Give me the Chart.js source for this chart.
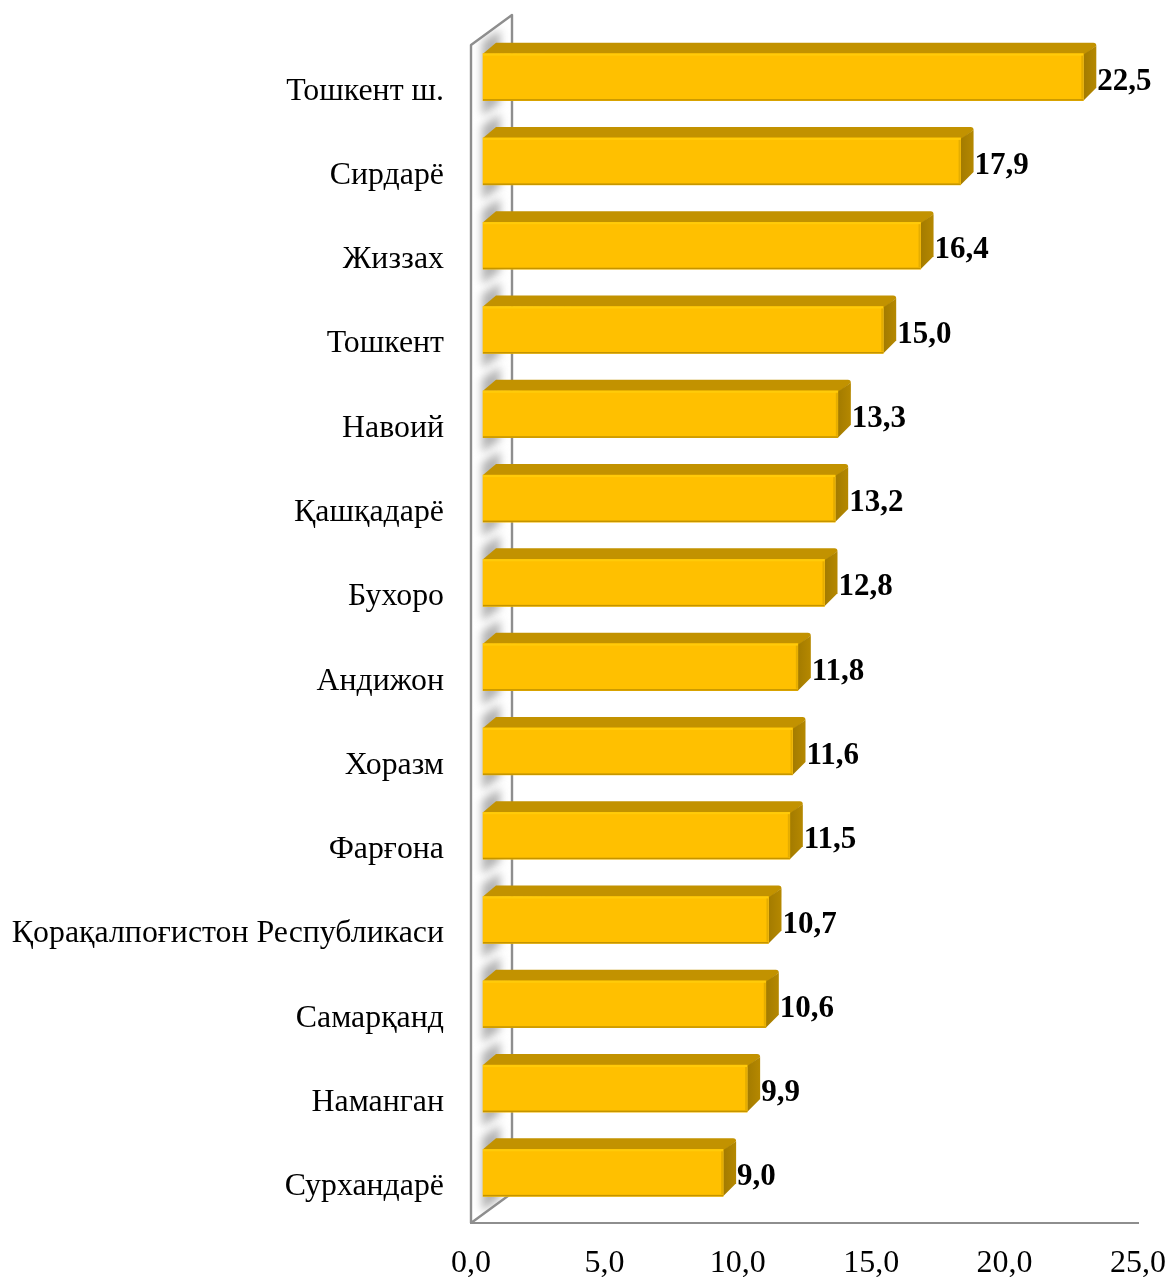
<!DOCTYPE html>
<html lang="uz">
<head>
    <meta charset="UTF-8">
    <title>Ҳудудлар кесимида</title>
    <style>
        html, body { margin: 0; padding: 0; background: #fff; }
        canvas { display: block; }
    </style>
</head>
<body>
    <canvas id="chart" width="1168" height="1277"></canvas>

    <script src="https://cdn.jsdelivr.net/npm/chart.js"></script>
    <script>
        const categories = ['Тошкент ш.', 'Сирдарё', 'Жиззах', 'Тошкент', 'Навоий', 'Қашқадарё', 'Бухоро',
            'Андижон', 'Хоразм', 'Фарғона', 'Қорақалпоғистон Республикаси', 'Самарқанд', 'Наманган', 'Сурхандарё'];
        const values = [22.5, 17.9, 16.4, 15.0, 13.3, 13.2, 12.8, 11.8, 11.6, 11.5, 10.7, 10.6, 9.9, 9.0];
        const tickLabels = ['0,0', '5,0', '10,0', '15,0', '20,0', '25,0'];

        const serif = '"Liberation Serif", "Times New Roman", serif';
        const axisGray = '#8e8e8e';
        // pseudo 3D: front of the bars sits this far from the wall base
        const shiftX = 12, shiftY = -8;
        const depthX = 13, depthY = 11;
        const wallX = 41, wallY = 30;
        const wallTopInset = 2;

        // back wall + floor edge lines, and the soft shadows the bars throw on it
        const wallPlugin = {
            id: 'wall',
            beforeDatasetsDraw(chart) {
                const { ctx, chartArea: a } = chart;
                const top = a.top + wallTopInset;
                ctx.save();
                ctx.save();
                ctx.beginPath();
                ctx.moveTo(a.left, top);
                ctx.lineTo(a.left + wallX, top - wallY);
                ctx.lineTo(a.left + wallX, a.bottom - wallY);
                ctx.lineTo(a.left, a.bottom);
                ctx.closePath();
                ctx.clip();
                ctx.filter = 'blur(4px)';
                ctx.fillStyle = '#b2b2b2';
                chart.getDatasetMeta(0).data.forEach(bar => {
                    const t = bar.y - bar.height / 2 + shiftY;
                    const b = bar.y + bar.height / 2 + shiftY;
                    const l = a.left + 11;
                    ctx.beginPath();
                    ctx.moveTo(l, t - 12);
                    ctx.lineTo(l + 18, t - 24);
                    ctx.lineTo(l + 18, b + 2);
                    ctx.lineTo(l, b + 15);
                    ctx.closePath();
                    ctx.fill();
                });
                ctx.restore();
                ctx.strokeStyle = axisGray;
                ctx.lineWidth = 2.4;
                ctx.lineJoin = 'round';
                ctx.beginPath();
                ctx.moveTo(a.left, a.bottom);
                ctx.lineTo(a.left, top);
                ctx.lineTo(a.left + wallX, top - wallY);
                ctx.lineTo(a.left + wallX, a.bottom - wallY);
                ctx.lineTo(a.left, a.bottom);
                ctx.stroke();
                ctx.restore();
            }
        };

        // top and side faces behind each bar, highlights and value labels over it
        const barFacesPlugin = {
            id: 'barFaces',
            beforeDatasetsDraw(chart) {
                const { ctx } = chart;
                ctx.save();
                ctx.translate(shiftX, shiftY);
                chart.getDatasetMeta(0).data.forEach(bar => {
                    const t = bar.y - bar.height / 2;
                    const b = bar.y + bar.height / 2;
                    ctx.fillStyle = '#c29200';
                    ctx.beginPath();
                    ctx.moveTo(bar.base, t);
                    ctx.lineTo(bar.base + depthX, t - depthY);
                    ctx.lineTo(bar.x + depthX - 3, t - depthY);
                    ctx.quadraticCurveTo(bar.x + depthX, t - depthY, bar.x + depthX, t - depthY + 3);
                    ctx.lineTo(bar.x, t + 2);
                    ctx.closePath();
                    ctx.fill();
                    const side = ctx.createLinearGradient(bar.x, 0, bar.x + depthX, 0);
                    side.addColorStop(0, '#a37b00');
                    side.addColorStop(1, '#b58800');
                    ctx.fillStyle = side;
                    ctx.beginPath();
                    ctx.moveTo(bar.x, t + 1);
                    ctx.lineTo(bar.x + depthX, t - depthY + 3);
                    ctx.lineTo(bar.x + depthX, b - depthY - 2);
                    ctx.lineTo(bar.x, b);
                    ctx.closePath();
                    ctx.fill();
                });
            },
            afterDatasetsDraw(chart) {
                const { ctx } = chart;
                chart.getDatasetMeta(0).data.forEach((bar, i) => {
                    const t = bar.y - bar.height / 2;
                    const b = bar.y + bar.height / 2;
                    ctx.fillStyle = '#ffcb0a';
                    ctx.fillRect(bar.base, t, bar.x - bar.base, 2);
                    ctx.fillStyle = '#c49400';
                    ctx.fillRect(bar.base, b - 1.5, bar.x - bar.base, 1.5);
                    ctx.fillStyle = '#e5ad00';
                    ctx.fillRect(bar.x - 2, t + 2, 2, bar.height - 4);

                    ctx.fillStyle = '#000';
                    ctx.font = 'bold 31px ' + serif;
                    ctx.textAlign = 'left';
                    ctx.textBaseline = 'middle';
                    ctx.fillText(tickText(values[i]), bar.x + depthX + 1, bar.y + 4.5);
                });
                ctx.restore();
            }
        };

        function tickText(v) {
            return v.toFixed(1).replace('.', ',');
        }

        new Chart(document.getElementById('chart'), {
            type: 'bar',
            data: {
                labels: categories,
                datasets: [{
                    data: values,
                    backgroundColor: '#ffc000',
                    barThickness: 47,
                    borderWidth: 0,
                    clip: false
                }]
            },
            options: {
                indexAxis: 'y',
                responsive: false,
                animation: false,
                layout: { padding: { top: 43, right: 30, left: 0, bottom: 0 } },
                plugins: {
                    legend: { display: false },
                    tooltip: { enabled: false }
                },
                scales: {
                    x: {
                        min: 0,
                        max: 25,
                        afterFit: scale => {
                            scale.height = 54;
                            // stop the last tick label from pulling the plot area in
                            scale.paddingRight = 0;
                            scale.paddingLeft = 0;
                        },
                        grid: { display: false, drawTicks: false },
                        border: { display: true, color: axisGray, width: 2 },
                        ticks: {
                            stepSize: 5,
                            maxRotation: 0,
                            padding: 21,
                            color: '#000',
                            font: { family: serif, size: 32 },
                            callback: (v, i) => tickLabels[i]
                        }
                    },
                    y: {
                        afterFit: scale => {
                            scale.width = 471;
                            scale.paddingTop = 0;
                            scale.paddingBottom = 0;
                        },
                        grid: { display: false, drawTicks: false },
                        border: { display: false },
                        ticks: {
                            padding: 27,
                            labelOffset: 6,
                            color: '#000',
                            autoSkip: false,
                            font: { family: serif, size: 31.85 }
                        }
                    }
                }
            },
            plugins: [wallPlugin, barFacesPlugin]
        });
    </script>
</body>
</html>
